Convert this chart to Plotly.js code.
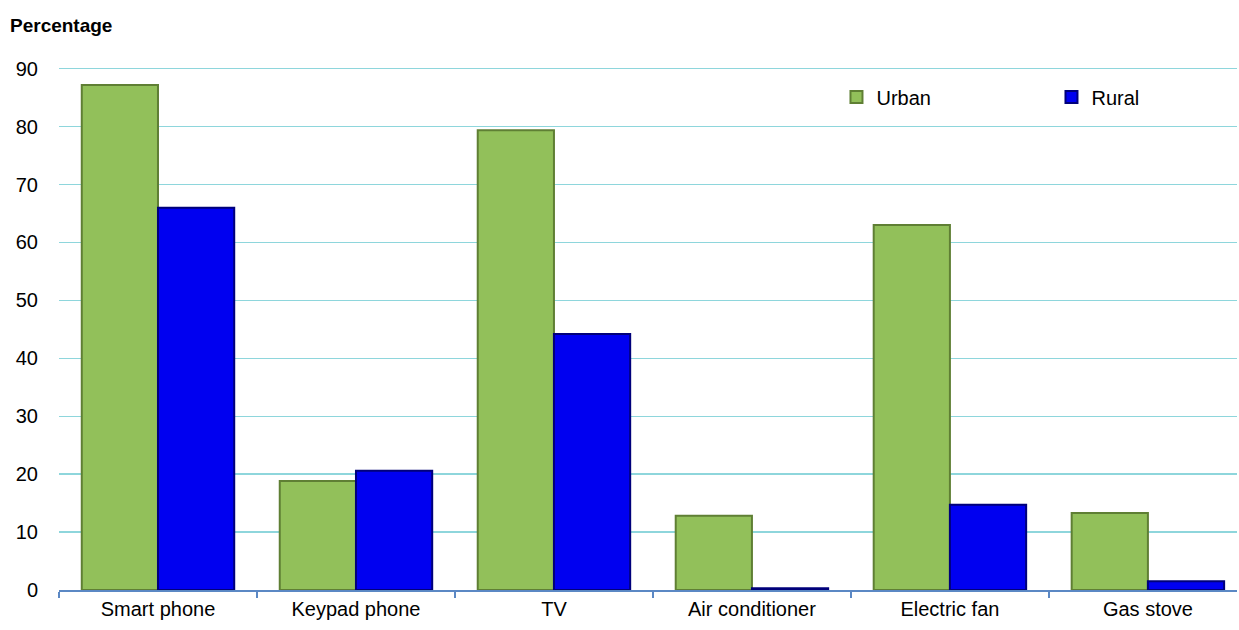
<!DOCTYPE html>
<html>
<head>
<meta charset="utf-8">
<script src="https://cdn.plot.ly/plotly-3.0.1.min.js"></script>
<style>html,body{margin:0;padding:0;background:#fff;}#chart{width:1239px;height:630px;}</style>
</head>
<body>
<div id="chart"></div>
<script>
const categories = ["Smart phone", "Keypad phone", "TV", "Air conditioner", "Electric fan", "Gas stove"];
const urban = [87.2, 18.8, 79.4, 12.8, 63.0, 13.3];
const rural = [66.0, 20.6, 44.2, 0.3, 14.7, 1.5];
const yTicks = [0, 10, 20, 30, 40, 50, 60, 70, 80, 90];

const fontFam = '"Liberation Sans", Arial, sans-serif';

const traces = [
  {
    type: 'bar', name: 'Urban', x: categories, y: urban,
    marker: {color: '#92c05a', line: {color: '#5f7f34', width: 2}},
    hoverinfo: 'skip'
  },
  {
    type: 'bar', name: 'Rural', x: categories, y: rural,
    marker: {color: '#0000f0', line: {color: '#00007a', width: 2}},
    hoverinfo: 'skip'
  }
];

const layout = {
  width: 1239, height: 630,
  margin: {l: 59, r: 2, t: 67, b: 40, autoexpand: false},
  paper_bgcolor: '#ffffff', plot_bgcolor: '#ffffff',
  barmode: 'group', bargap: 0.23, bargroupgap: 0,
  font: {family: fontFam, size: 20, color: '#000'},
  showlegend: true,
  legend: {
    orientation: 'h', x: 0.66, y: 0.98, xanchor: 'left', yanchor: 'top',
    entrywidth: 170, entrywidthmode: 'pixels',
    font: {family: fontFam, size: 20, color: '#000'},
    bgcolor: 'rgba(0,0,0,0)'
  },
  xaxis: {
    type: 'category', range: [-0.5, 5.45],
    showgrid: false, zeroline: false,
    showline: true, linecolor: '#5b88c4', linewidth: 1.5,
    ticks: 'outside', tickson: 'boundaries', ticklen: 6, tickcolor: '#5b88c4', tickwidth: 1.5,
    tickfont: {family: fontFam, size: 20, color: '#000'}
  },
  yaxis: {
    range: [0, 90.3], tickvals: yTicks, ticktext: yTicks.map(String),
    showgrid: true, gridcolor: '#8ed6dc', gridwidth: 1.5,
    zeroline: false, showline: false, ticks: '',
    ticklabelstandoff: 20,
    tickfont: {family: fontFam, size: 20, color: '#000'}
  },
  annotations: [
    {text: '<b>Percentage</b>', xref: 'paper', yref: 'paper', x: -0.043, y: 1.08,
     xanchor: 'left', yanchor: 'middle', showarrow: false,
     font: {family: fontFam, size: 19, color: '#000'}}
  ]
};

Plotly.newPlot('chart', traces, layout, {displayModeBar: false, staticPlot: true});
</script>
</body>
</html>
